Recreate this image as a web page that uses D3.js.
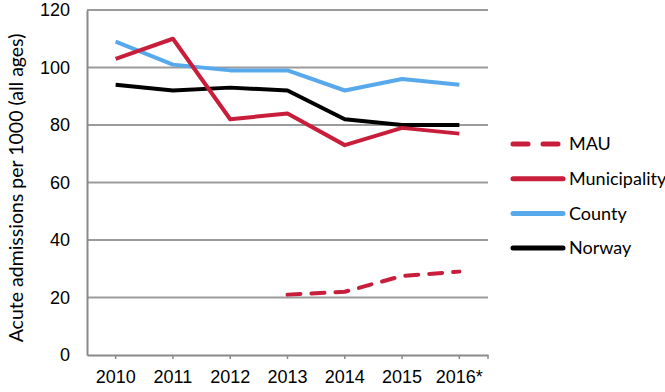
<!DOCTYPE html>
<html>
<head>
<meta charset="utf-8">
<script src="https://cdn.jsdelivr.net/npm/d3@7"></script>
<style>
  body { margin: 0; background: #fff; }
  svg { font-family: Lato, "Open Sans", sans-serif; }
</style>
</head>
<body>
<svg id="chart" width="665" height="392"></svg>
<script>
'use strict';

// chart data
let years = ["2010", "2011", "2012", "2013", "2014", "2015", "2016*"];
let municipality = [103, 110, 82, 84, 73, 79, 77];
let county = [109, 101, 99, 99, 92, 96, 94];
let norway = [94, 92, 93, 92, 82, 80, 80];
let mau = [null, null, null, 21, 22, 27.5, 29];
let yTicks = [0, 20, 40, 60, 80, 100, 120];

let seriesNames = ["MAU", "Municipality", "County", "Norway"];
let seriesValues = [mau, municipality, county, norway];
let seriesColors = ["#c81e3c", "#c81e3c", "#58a8ec", "#000000"];
let seriesDash = ["13,11", null, null, null];

function getChartConfig() {
    let margin = { top: 10, right: 177, bottom: 37, left: 87 },
        width = 665 - margin.left - margin.right,
        height = 392 - margin.top - margin.bottom;

    let container = d3.select("#chart")
        .append("g")
        .attr("transform", "translate(" + margin.left + "," + margin.top + ")");

    return { width, height, container, margin };
}

function getScales(config) {
    let { width, height } = config;

    let xScale = d3.scaleBand()
        .domain(years)
        .range([0, width]);

    let yScale = d3.scaleLinear()
        .domain([0, 120])
        .range([height, 0]);

    return { xScale, yScale };
}

function drawGrid(config, scales) {
    let { container, width } = config;
    let { yScale } = scales;

    container.selectAll(".grid")
        .data(yTicks.filter(d => d > 0))
        .enter().append("line")
        .attr("class", "grid")
        .attr("x1", 0)
        .attr("x2", width)
        .attr("y1", d => yScale(d))
        .attr("y2", d => yScale(d))
        .style("stroke", "#9b9b9b")
        .style("stroke-width", 2);
}

function drawAxis(config, scales) {
    let { container, width, height } = config;
    let { xScale, yScale } = scales;

    let yAxis = d3.axisLeft(yScale).tickValues(yTicks).tickSize(0).tickPadding(17);
    let gy = container.append("g").call(yAxis);
    gy.select(".domain").style("stroke", "#8a8a8a").style("stroke-width", 2);
    gy.selectAll("text").style("font-size", "18px").style("fill", "#000");

    let xAxis = d3.axisBottom(xScale).tickSize(4).tickSizeOuter(0).tickPadding(11);
    let gx = container.append("g")
        .attr("transform", "translate(0," + height + ")")
        .call(xAxis);
    gx.select(".domain").style("stroke", "#8a8a8a").style("stroke-width", 2);
    gx.selectAll("line").style("stroke", "#8a8a8a").style("stroke-width", 1.5);
    gx.selectAll("text").style("font-size", "18px").style("fill", "#000");

    // small end tick at the right edge
    container.append("line")
        .attr("x1", width).attr("x2", width)
        .attr("y1", height).attr("y2", height + 4)
        .style("stroke", "#8a8a8a").style("stroke-width", 1.5);

    container.append("text")
        .attr("transform", "rotate(-90)")
        .attr("x", -178)
        .attr("y", -71)
        .attr("dy", "0.35em")
        .style("text-anchor", "middle")
        .style("font-size", "19.5px")
        .text("Acute admissions per 1000 (all ages)");
}

function drawLines(config, scales) {
    let { container } = config;
    let { xScale, yScale } = scales;
    let half = xScale.bandwidth() / 2;

    let line = d3.line()
        .defined(d => d != null)
        .x((d, i) => xScale(years[i]) + half)
        .y(d => yScale(d));

    // draw back to front: Norway under others like the reference
    let order = [3, 2, 1, 0];
    order.forEach(i => {
        container.append("path")
            .datum(seriesValues[i])
            .attr("d", line)
            .style("fill", "none")
            .style("stroke", seriesColors[i])
            .style("stroke-width", 4)
            .style("stroke-linejoin", "round")
            .style("stroke-linecap", seriesDash[i] ? "round" : "butt")
            .style("stroke-dasharray", seriesDash[i]);
    });
}

function drawLegend(config) {
    let { container, width } = config;

    let legend = container.selectAll(".legend")
        .data(seriesNames)
        .enter().append("g")
        .attr("class", "legend")
        .attr("transform", (d, i) => "translate(" + (width + 25) + "," + (134 + i * 34.7) + ")");

    legend.append("line")
        .attr("x1", 0).attr("x2", (d, i) => seriesDash[i] ? 47 : 50)
        .style("stroke", (d, i) => seriesColors[i])
        .style("stroke-width", 5)
        .style("stroke-linecap", "round")
        .style("stroke-dasharray", (d, i) => seriesDash[i] ? "15,15" : null);

    legend.append("text")
        .attr("x", 56)
        .attr("dy", "0.35em")
        .style("font-size", "18px")
        .text(d => d);
}

function drawChart() {
    let config = getChartConfig();
    let scales = getScales(config);
    drawGrid(config, scales);
    drawLines(config, scales);
    drawAxis(config, scales);
    drawLegend(config);
}

drawChart();
</script>
</body>
</html>
